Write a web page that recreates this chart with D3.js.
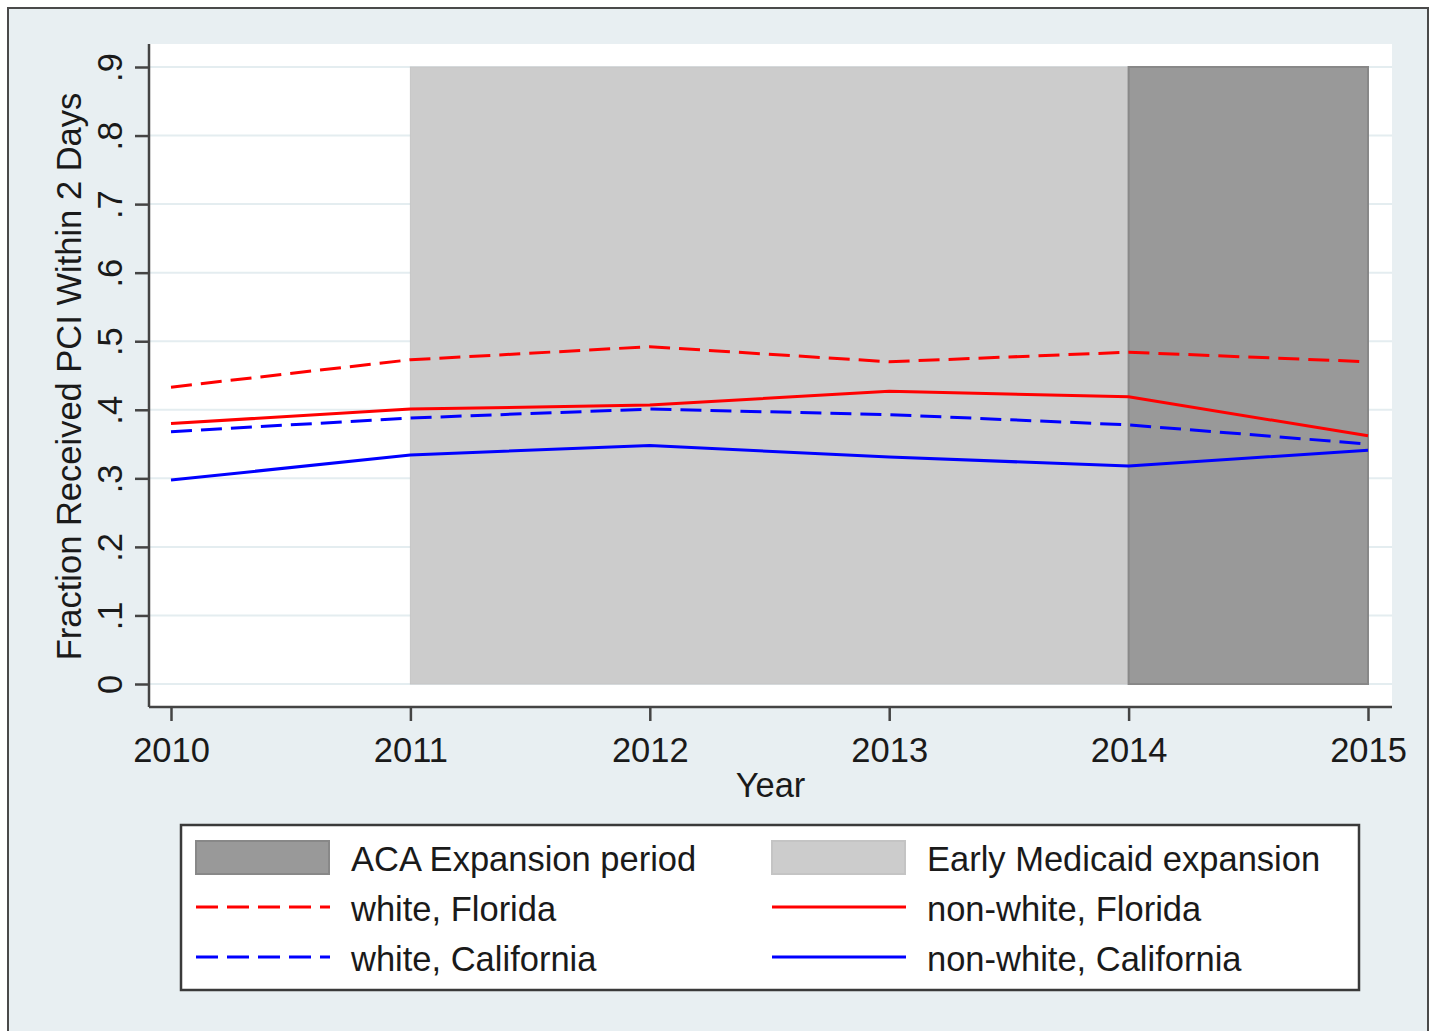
<!DOCTYPE html>
<html>
<head>
<meta charset="utf-8">
<script src="https://cdn.jsdelivr.net/npm/d3@7"></script>
<style>
html,body{margin:0;padding:0;background:#fff;}
svg{display:block;}
text{font-family:"Liberation Sans",Arial,sans-serif;fill:#1a1a1a;}
</style>
</head>
<body>
<svg id="chart" width="1430" height="1031"></svg>
<script>
const years = [2010, 2011, 2012, 2013, 2014, 2015];
const yTicks = [0, 0.1, 0.2, 0.3, 0.4, 0.5, 0.6, 0.7, 0.8, 0.9];
const yTickLabels = ["0", ".1", ".2", ".3", ".4", ".5", ".6", ".7", ".8", ".9"];
const whiteFlorida = [0.433, 0.473, 0.492, 0.470, 0.484, 0.470];
const nonWhiteFlorida = [0.380, 0.401, 0.407, 0.427, 0.419, 0.362];
const whiteCalifornia = [0.368, 0.388, 0.401, 0.393, 0.378, 0.350];
const nonWhiteCalifornia = [0.2975, 0.334, 0.348, 0.331, 0.318, 0.341];
const earlyPeriod = [2011, 2014];
const acaPeriod = [2014, 2015];
const shadeTop = 0.9;

const seriesList = [
  {name: "white, Florida", values: whiteFlorida, color: "#ff0000", dash: true},
  {name: "non-white, Florida", values: nonWhiteFlorida, color: "#ff0000", dash: false},
  {name: "white, California", values: whiteCalifornia, color: "#0000ff", dash: true},
  {name: "non-white, California", values: nonWhiteCalifornia, color: "#0000ff", dash: false}
];

const svg = d3.select("#chart");
const bg = "#e8eff2";
const FS = 34.5;
// outer graph region
svg.append("rect").attr("x", 8).attr("y", 8).attr("width", 1420).attr("height", 1040)
  .attr("fill", bg).attr("stroke", "#4a4a4a").attr("stroke-width", 2);

// plot region
const pr = {left: 149, top: 44, right: 1392, bottom: 707};
svg.append("rect").attr("x", pr.left).attr("y", pr.top)
  .attr("width", pr.right - pr.left).attr("height", pr.bottom - pr.top).attr("fill", "#fff");

const x = d3.scaleLinear().domain([2010, 2015]).range([171, 1368]);
const y = d3.scaleLinear().domain([0, 0.9]).range([684, 67]);

// gridlines
svg.append("g").selectAll("line").data(yTicks).join("line")
  .attr("x1", pr.left).attr("x2", pr.right)
  .attr("y1", d => y(d)).attr("y2", d => y(d))
  .attr("stroke", "#e4edf0").attr("stroke-width", 2);

// shaded periods
svg.append("rect")
  .attr("x", x(earlyPeriod[0])).attr("y", y(shadeTop))
  .attr("width", x(earlyPeriod[1]) - x(earlyPeriod[0])).attr("height", y(0) - y(shadeTop))
  .attr("fill", "#cccccc").attr("stroke", "#c6c6c6").attr("stroke-width", 1);
svg.append("rect")
  .attr("x", x(acaPeriod[0])).attr("y", y(shadeTop))
  .attr("width", x(acaPeriod[1]) - x(acaPeriod[0])).attr("height", y(0) - y(shadeTop))
  .attr("fill", "#999999").attr("stroke", "#888888").attr("stroke-width", 2);

// lines
const line = d3.line().x((d, i) => x(years[i])).y(d => y(d));
seriesList.forEach(s => {
  svg.append("path").datum(s.values).attr("d", line)
    .attr("fill", "none").attr("stroke", s.color).attr("stroke-width", 3)
    .attr("stroke-dasharray", s.dash ? "21,9" : null);
});

// axes
const yAxis = d3.axisLeft(y).tickValues(yTicks).tickFormat((d, i) => yTickLabels[i])
  .tickSize(14).tickPadding(13);
const gy = svg.append("g").attr("transform", `translate(${pr.left},0)`).call(yAxis);
gy.select(".domain").attr("d", `M0,${pr.top}V${pr.bottom}`).attr("stroke", "#444").attr("stroke-width", 2.5);
gy.selectAll(".tick line").attr("stroke", "#444").attr("stroke-width", 2.5);
gy.selectAll(".tick text")
  .attr("font-size", FS).attr("text-anchor", "middle")
  .attr("x", null).attr("dy", null)
  .attr("transform", "translate(-27,0) rotate(-90)")
  .attr("y", 0).attr("fill", "#1a1a1a");

const xAxis = d3.axisBottom(x).tickValues(years).tickFormat(d3.format("d"))
  .tickSize(14).tickPadding(10);
const gx = svg.append("g").attr("transform", `translate(0,${pr.bottom})`).call(xAxis);
gx.select(".domain").attr("d", `M${pr.left},0H${pr.right}`).attr("stroke", "#444").attr("stroke-width", 2.5);
gx.selectAll(".tick line").attr("stroke", "#444").attr("stroke-width", 2.5);
gx.selectAll(".tick text").attr("font-size", FS).attr("dy", null).attr("y", 55).attr("fill", "#1a1a1a");

// axis titles
svg.append("text").attr("x", (pr.left + pr.right) / 2).attr("y", 797)
  .attr("text-anchor", "middle").attr("font-size", FS).text("Year");
svg.append("text").attr("transform", `translate(81,${(pr.top + pr.bottom) / 2 + 1}) rotate(-90)`)
  .attr("text-anchor", "middle").attr("font-size", FS).text("Fraction Received PCI Within 2 Days");

// legend
const lg = svg.append("g");
lg.append("rect").attr("x", 181).attr("y", 825).attr("width", 1178).attr("height", 165)
  .attr("fill", "#fff").attr("stroke", "#3a3a3a").attr("stroke-width", 2.5);
const legendItems = [
  {label: "ACA Expansion period", type: "box", fill: "#999999", stroke: "#888888", col: 0, row: 0},
  {label: "Early Medicaid expansion", type: "box", fill: "#cccccc", stroke: "#c4c4c4", col: 1, row: 0},
  {label: seriesList[0].name, type: "line", color: seriesList[0].color, dash: true, col: 0, row: 1},
  {label: seriesList[1].name, type: "line", color: seriesList[1].color, dash: false, col: 1, row: 1},
  {label: seriesList[2].name, type: "line", color: seriesList[2].color, dash: true, col: 0, row: 2},
  {label: seriesList[3].name, type: "line", color: seriesList[3].color, dash: false, col: 1, row: 2}
];
const colX = [196, 772];
const rowY = [857, 907, 957];
legendItems.forEach(it => {
  const cx = colX[it.col], cy = rowY[it.row];
  if (it.type === "box") {
    lg.append("rect").attr("x", cx).attr("y", cy - 16).attr("width", 133).attr("height", 33)
      .attr("fill", it.fill).attr("stroke", it.stroke).attr("stroke-width", 2);
  } else {
    lg.append("line").attr("x1", cx).attr("x2", cx + 134).attr("y1", cy).attr("y2", cy)
      .attr("stroke", it.color).attr("stroke-width", 3)
      .attr("stroke-dasharray", it.dash ? "22,9" : null);
  }
  lg.append("text").attr("x", cx + 155).attr("y", cy + 14).attr("font-size", FS).text(it.label);
});
</script>
</body>
</html>
